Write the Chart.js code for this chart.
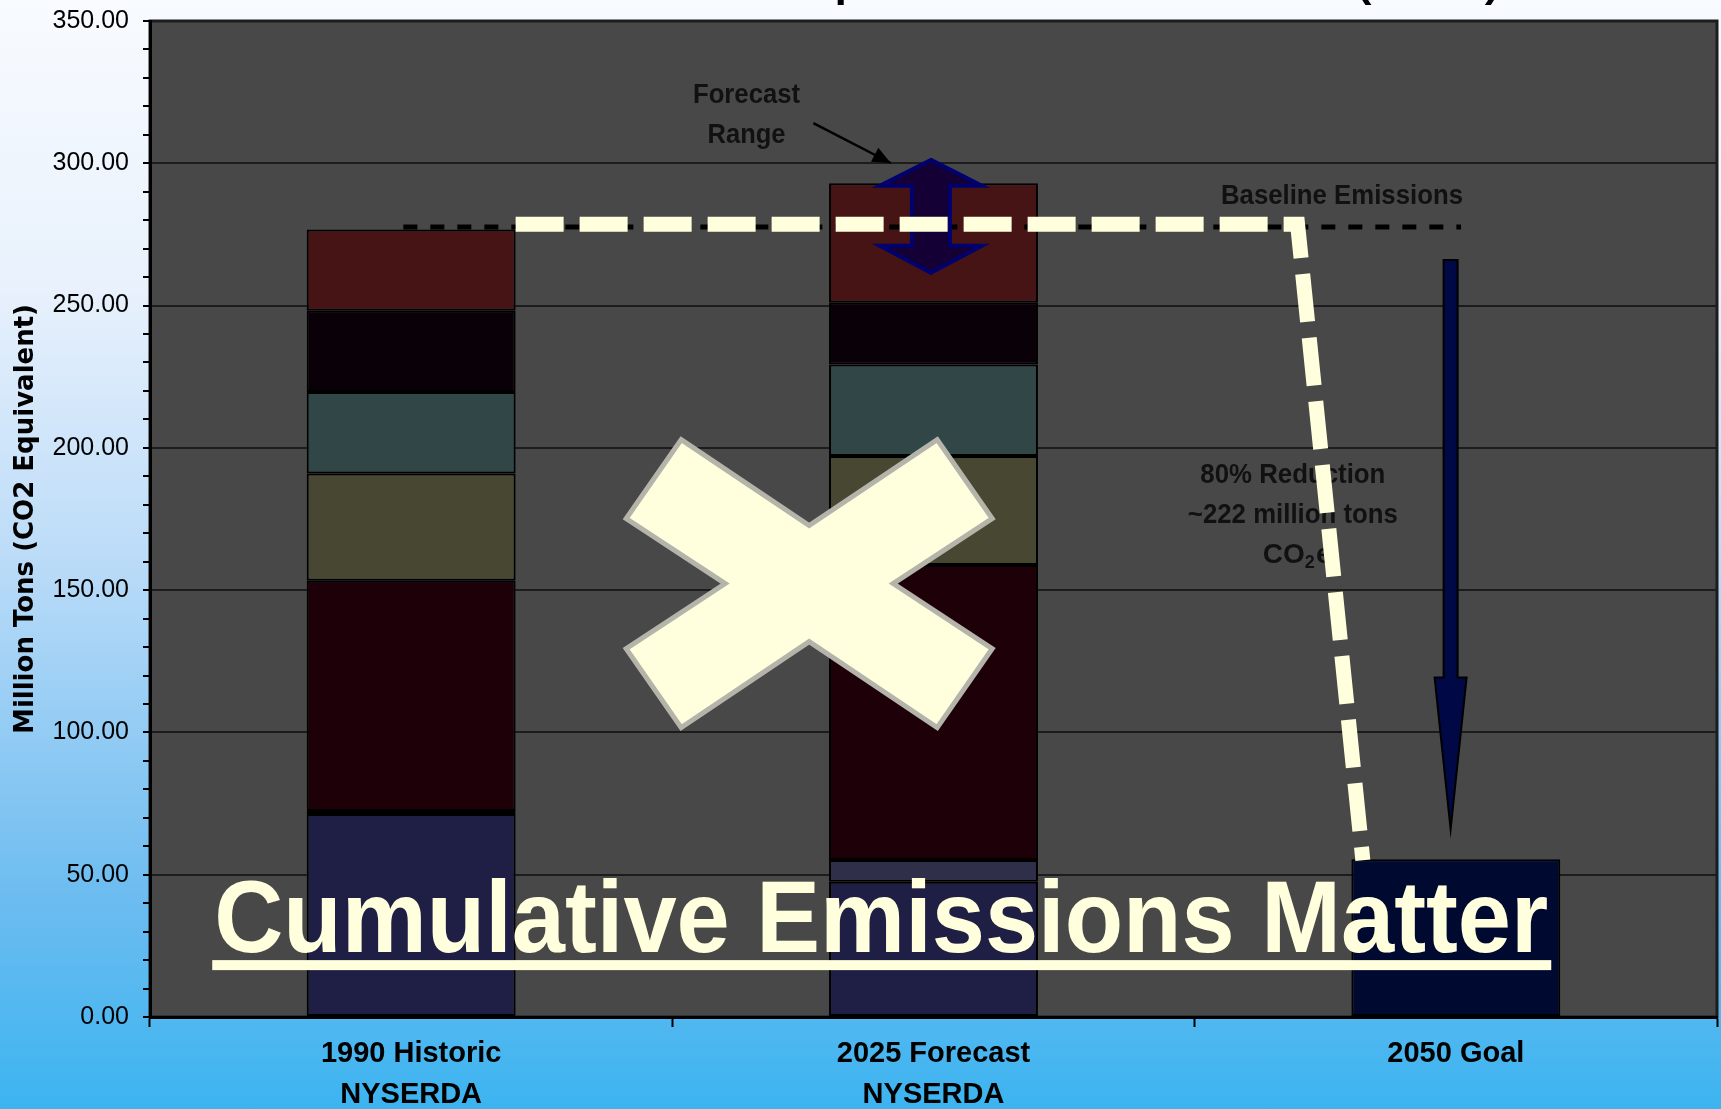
<!DOCTYPE html>
<html>
<head>
<meta charset="utf-8">
<script src="https://cdn.jsdelivr.net/npm/chart.js@4.4.1/dist/chart.umd.min.js"></script>
<style>
  html, body { margin: 0; padding: 0; }
  body {
    width: 1721px; height: 1109px; overflow: hidden;
    background: linear-gradient(to bottom, #f8fbff 0%, #e8f1fc 26%, #bcdcf8 50%, #6cbcf0 81%, #3cb4f0 100%);
  }
  canvas { display: block; }
</style>
</head>
<body>
<canvas id="emissionsChart" width="1721" height="1109"></canvas>
<script>
// Emissions by sector, stacked (million tons CO2e)
var categories = [['1990 Historic', 'NYSERDA'], ['2025 Forecast', 'NYSERDA'], '2050 Goal'];
var sectorNames = ['Sector 1', 'Sector 2', 'Sector 3', 'Sector 4', 'Sector 5', 'Sector 6', 'Sector 7'];
var sector1 = [71.3, 47.5, null];
var sector2 = [1.1, 7.7, null];
var sector3 = [80.9, 103.6, null];
var sector4 = [37.7, 38.3, null];
var sector5 = [28.6, 32.2, null];
var sector6 = [28.6, 21.7, null];
var sector7 = [28.5, 42.0, null];
var goal = [null, null, 55.4];
var tickLabels = ['0.00', '50.00', '100.00', '150.00', '200.00', '250.00', '300.00', '350.00'];

// annotation values
var baseline = 277.6;
var forecastRange = [261.5, 301.2];
var reductionArrow = [266, 119.3, 66];

var sectorColors = ['#1f1f45', '#2f2f4a', '#1e0008', '#484832', '#314646', '#0a0008', '#461414'];
var cream = '#ffffdd';

function fitText(ctx, text, x, y, width) {
    var w = ctx.measureText(text).width;
    ctx.save();
    ctx.translate(x, y);
    ctx.scale(width / w, 1);
    ctx.fillText(text, 0, 0);
    ctx.restore();
}

// dark plot background
var plotBg = {
    id: 'plotBg',
    beforeDraw: function (chart) {
        var c = chart.ctx, a = chart.chartArea;
        c.save();
        c.fillStyle = '#484848';
        c.fillRect(a.left, a.top, a.right - a.left, a.bottom - a.top);
        c.strokeStyle = '#1c1c1c';
        c.lineWidth = 3;
        c.strokeRect(a.left, a.top, a.right - a.left, a.bottom - a.top);
        c.restore();
    }
};

// arrows, dashed lines, notes and the big X
var overlays = {
    id: 'overlays',
    afterDraw: function (chart) {
        var c = chart.ctx;
        var xs = chart.scales.x, ys = chart.scales.y;
        var x0 = xs.getPixelForValue(0), step = xs.getPixelForValue(1) - x0;
        function px(cat) { return x0 + cat * step; }
        function py(v) { return ys.getPixelForValue(v); }

        c.save();

        // cut-off slide title
        c.fillStyle = '#000';
        c.font = 'bold 40px "Liberation Sans", Arial, sans-serif';
        c.textAlign = 'center';
        c.textBaseline = 'alphabetic';
        fitText(c, 'GHG Emission Reductions Required to Meet 2050 Goal (80-90)', px(0.827), -3, 1313);

        // notes
        c.fillStyle = '#111';
        c.textBaseline = 'middle';
        c.font = 'bold 28px "Liberation Sans", Arial, sans-serif';
        fitText(c, 'Forecast', px(0.642), py(324), 107);
        fitText(c, 'Range', px(0.642), py(310), 78);
        fitText(c, 'Baseline Emissions', px(1.782), py(288.5), 242);
        fitText(c, '80% Reduction', px(1.688), py(190.2), 185);
        fitText(c, '~222 million tons', px(1.688), py(176.2), 210);
        c.textAlign = 'left';
        var cx = px(1.688) - 30, cy = py(162.2);
        c.fillText('CO', cx, cy);
        var w = c.measureText('CO').width;
        c.font = 'bold 18px "Liberation Sans", Arial, sans-serif';
        c.fillText('2', cx + w, cy + 8);
        var w2 = c.measureText('2').width;
        c.font = 'bold 28px "Liberation Sans", Arial, sans-serif';
        c.fillText('e', cx + w + w2 + 1, cy);

        // forecast range pointer
        var ax1 = px(0.770), ay1 = py(314.1), ax2 = px(0.918), ay2 = py(300.1);
        c.strokeStyle = '#000';
        c.lineWidth = 2.5;
        c.beginPath(); c.moveTo(ax1, ay1); c.lineTo(ax2, ay2); c.stroke();
        var ang = Math.atan2(ay2 - ay1, ax2 - ax1);
        c.fillStyle = '#000';
        c.beginPath();
        c.moveTo(ax2, ay2);
        c.lineTo(ax2 - 18 * Math.cos(ang) + 8 * Math.sin(ang), ay2 - 18 * Math.sin(ang) - 8 * Math.cos(ang));
        c.lineTo(ax2 - 18 * Math.cos(ang) - 8 * Math.sin(ang), ay2 - 18 * Math.sin(ang) + 8 * Math.cos(ang));
        c.closePath(); c.fill();

        // black baseline dashes
        c.setLineDash([14, 13]);
        c.lineWidth = 5;
        c.beginPath();
        c.moveTo(px(-0.015), py(baseline));
        c.lineTo(px(2.01), py(baseline));
        c.stroke();
        c.setLineDash([]);

        // double arrow for the forecast range
        var dx = px(0.995), top = py(forecastRange[1]), bot = py(forecastRange[0]);
        c.beginPath();
        c.moveTo(dx, top);
        c.lineTo(dx + 51, top + 26); c.lineTo(dx + 19, top + 26);
        c.lineTo(dx + 19, bot - 27); c.lineTo(dx + 51, bot - 27);
        c.lineTo(dx, bot);
        c.lineTo(dx - 51, bot - 27); c.lineTo(dx - 19, bot - 27);
        c.lineTo(dx - 19, top + 26); c.lineTo(dx - 51, top + 26);
        c.closePath();
        c.fillStyle = '#150035';
        c.fill();
        c.strokeStyle = '#00006e';
        c.lineWidth = 4;
        c.stroke();

        // cream dashed path from baseline down to goal
        c.strokeStyle = cream;
        c.lineWidth = 15;
        c.lineCap = 'butt';
        c.lineJoin = 'miter';
        c.setLineDash([48, 16]);
        c.beginPath();
        c.moveTo(px(0.2), py(278.6));
        c.lineTo(px(1.697), py(278.6));
        c.lineTo(px(1.822), py(55.1));
        c.stroke();
        c.setLineDash([]);

        // reduction arrow
        var rx = px(1.990), rt = py(reductionArrow[0]), rh = py(reductionArrow[1]), rb = py(reductionArrow[2]);
        c.beginPath();
        c.moveTo(rx - 7, rt); c.lineTo(rx + 7, rt);
        c.lineTo(rx + 7, rh); c.lineTo(rx + 16, rh);
        c.lineTo(rx, rb);
        c.lineTo(rx - 16, rh); c.lineTo(rx - 7, rh);
        c.closePath();
        c.fillStyle = '#000845';
        c.fill();
        c.strokeStyle = '#000';
        c.lineWidth = 2;
        c.stroke();

        // big X
        var xc = px(0.762), yc = py(152.3);
        var pts = [[-128, -144], [0, -58], [128, -144], [183, -65], [84, 0], [183, 65],
                   [128, 144], [0, 58], [-128, 144], [-183, 65], [-84, 0], [-183, -65]];
        c.beginPath();
        pts.forEach(function (p, i) {
            if (i === 0) c.moveTo(xc + p[0], yc + p[1]); else c.lineTo(xc + p[0], yc + p[1]);
        });
        c.closePath();
        c.fillStyle = cream;
        c.fill();
        c.strokeStyle = '#b4b4aa';
        c.lineWidth = 5;
        c.stroke();

        // headline
        var hx = px(-0.377), hy = py(22.8);
        c.fillStyle = cream;
        c.font = 'bold 102px "Liberation Sans", Arial, sans-serif';
        c.textAlign = 'left';
        c.textBaseline = 'alphabetic';
        fitText(c, 'Cumulative Emissions Matter', hx, hy, 1334);
        c.fillRect(hx - 2, hy + 8, 1339, 10);

        c.restore();
    }
};

var datasets = [sector1, sector2, sector3, sector4, sector5, sector6, sector7].map(function (d, i) {
    return { label: sectorNames[i], data: d, backgroundColor: sectorColors[i] };
});
datasets.push({ label: '2050 Goal', data: goal, backgroundColor: '#000a30' });

var ctx = document.getElementById('emissionsChart').getContext('2d');
var emissionsChart = new Chart(ctx, {
    type: 'bar',
    data: {
        labels: categories,
        datasets: datasets
    },
    plugins: [plotBg, overlays],
    options: {
        responsive: false,
        animation: false,
        devicePixelRatio: 1,
        layout: { padding: { top: 21, right: 4, left: 0, bottom: 0 } },
        datasets: {
            bar: {
                borderColor: '#000',
                borderWidth: 2,
                borderSkipped: false,
                barPercentage: 0.4,
                categoryPercentage: 1.0
            }
        },
        plugins: {
            legend: { display: false },
            tooltip: { enabled: false }
        },
        scales: {
            x: {
                stacked: true,
                grid: { offset: true, drawOnChartArea: false, tickLength: 10, tickWidth: 2, tickColor: '#000' },
                border: { color: '#000', width: 3 },
                ticks: {
                    color: '#000',
                    padding: 7,
                    maxRotation: 0,
                    font: { family: '"Liberation Sans", Arial, sans-serif', size: 29, weight: 'bold', lineHeight: 1.4 }
                },
                afterFit: function (s) { s.height = 92; }
            },
            y: {
                stacked: true,
                min: 0,
                max: 350,
                ticks: {
                    stepSize: 10,
                    autoSkip: false,
                    color: '#000',
                    padding: 14,
                    font: { family: '"Liberation Sans", Arial, sans-serif', size: 25 },
                    callback: function (v) { return tickLabels.indexOf(v.toFixed(2)) >= 0 ? v.toFixed(2) : ''; }
                },
                grid: {
                    color: function (c) { return c.tick && c.tick.value % 50 === 0 ? '#1c1c1c' : 'rgba(0,0,0,0)'; },
                    lineWidth: 2,
                    tickColor: '#000',
                    tickLength: 7,
                    tickWidth: 2
                },
                border: { color: '#000', width: 3 },
                title: {
                    display: true,
                    text: 'Million Tons (CO2 Equivalent)',
                    color: '#000',
                    font: { family: '"DejaVu Sans", sans-serif', size: 26, weight: 'bold' },
                    padding: { top: 11, bottom: 0 }
                },
                afterFit: function (s) {
                    s.width = 150;
                    s.paddingTop = 0;
                    s.paddingBottom = 0;
                }
            }
        }
    }
});
</script>
</body>
</html>
